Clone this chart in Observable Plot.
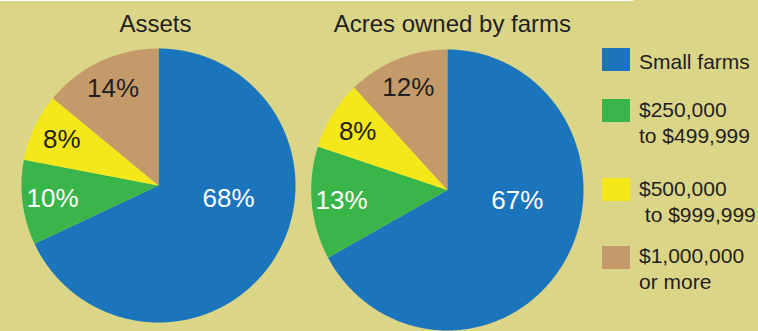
<!DOCTYPE html>
<html><head><meta charset="utf-8">
<script src="https://cdn.jsdelivr.net/npm/d3@7"></script>
<script src="https://cdn.jsdelivr.net/npm/@observablehq/plot@0.6"></script>
<style>
html,body{margin:0;padding:0;}
body{width:758px;height:331px;background:#dbd588;overflow:hidden;font-family:"Liberation Sans",Arial,sans-serif;}
#chart{position:relative;width:758px;height:331px;}
.strip{position:absolute;left:0;top:0;width:633px;height:1px;background:#fff;}
.swatch{position:absolute;left:602px;width:28px;height:23px;}
.ltext{position:absolute;left:639px;font-size:21px;line-height:26px;color:#231f20;white-space:pre;}
</style></head><body><div id="chart"><div class="strip"></div></div>
<script>
const categories = ["Small farms", "$250,000 to $499,999", "$500,000 to $999,999", "$1,000,000 or more"];
const legendLabels = ["Small farms", "$250,000\nto $499,999", "$500,000\n to $999,999", "$1,000,000\nor more"];
const chartTitles = ["Assets", "Acres owned by farms"];
const assetsShares = [68, 10, 8, 14];
const acresShares = [67, 13, 8, 12];

const colors = ["#1b75bc", "#3ab54a", "#f5e81a", "#c59a6b"];
const lightLabel = [true, true, false, false];

function slices(values) {
  const total = d3.sum(values);
  const maxI = d3.maxIndex(values);
  let acc = 0;
  const pts = [], labels = [];
  values.forEach((v, i) => {
    const a0 = acc / total * 2 * Math.PI; acc += v; const a1 = acc / total * 2 * Math.PI;
    const n = Math.max(2, Math.ceil((a1 - a0) / (Math.PI / 360)));
    pts.push({cat: categories[i], x: 0, y: 0});
    for (let k = 0; k <= n; k++) {
      const a = a0 + (a1 - a0) * k / n;
      pts.push({cat: categories[i], x: Math.sin(a), y: Math.cos(a)});
    }
    pts.push({cat: categories[i], x: 0, y: 0});
    let mid = (a0 + a1) / 2, r = 0.78;
    if (i === maxI) { mid -= 22 * Math.PI / 180; r = 0.52; }
    labels.push({text: v + "%", x: r * Math.sin(mid), y: r * Math.cos(mid), light: lightLabel[i]});
  });
  return {pts, labels};
}

function pie(title, values, box) {
  const {pts, labels} = slices(values);
  const svg = Plot.plot({
    width: box.width, height: 331,
    marginLeft: box.ml, marginRight: box.width - box.ml - box.pw,
    marginTop: box.mt, marginBottom: 331 - box.mt - box.ph,
    x: {domain: [-1, 1], axis: null},
    y: {domain: [-1, 1], axis: null},
    color: {domain: categories, range: colors},
    style: {background: "transparent", fontFamily: "'Liberation Sans', Arial, sans-serif", overflow: "visible"},
    marks: [
      Plot.line(pts, {x: "x", y: "y", z: "cat", fill: "cat", stroke: "none", curve: "linear"}),
      Plot.text(labels.filter(d => d.light), {x: "x", y: "y", text: "text", fill: "white", fontSize: 26}),
      Plot.text(labels.filter(d => !d.light), {x: "x", y: "y", text: "text", fill: "#231f20", fontSize: 26}),
      Plot.text([title], {frameAnchor: "top", lineAnchor: "middle", dx: box.tdx, dy: box.tdy, text: d => d, fontSize: 24, fill: "#231f20"})
    ]
  });
  svg.style.position = "absolute";
  svg.style.left = box.left + "px";
  svg.style.top = "0px";
  return svg;
}

const chart = document.getElementById("chart");
chart.appendChild(pie(chartTitles[0], assetsShares, {left: 0, width: 303, ml: 21, pw: 274, mt: 48, ph: 274, tdx: -3, tdy: -24}));
chart.appendChild(pie(chartTitles[1], acresShares, {left: 303, width: 287, ml: 7.7, pw: 272.3, mt: 49, ph: 281, tdx: 5, tdy: -25}));

const swatchTops = [48, 99, 178, 246];
const textTops = [48.7, 96.7, 175.7, 242.7];
categories.forEach((c, i) => {
  const sw = document.createElement("div");
  sw.className = "swatch"; sw.style.top = swatchTops[i] + "px"; sw.style.background = colors[i];
  chart.appendChild(sw);
  const t = document.createElement("div");
  t.className = "ltext"; t.style.top = textTops[i] + "px"; t.textContent = legendLabels[i];
  chart.appendChild(t);
});
</script></body></html>
